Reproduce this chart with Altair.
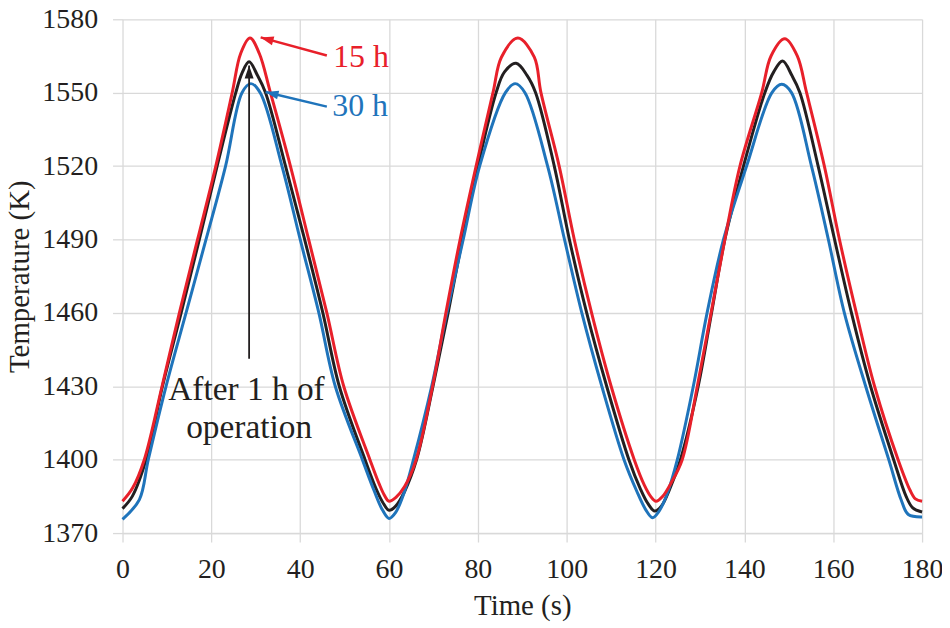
import altair as alt
import pandas as pd

# ---- series data ----
t_red = [0, 2.3, 4.9, 8.9, 12.8, 16.9, 21.0, 24.7, 26.6, 28.7,
         30.8, 33.3, 37.8, 41.9, 46.0, 49.8, 55.7, 57.8, 59.0, 60.0,
         61.5, 63.5, 66.1, 69.8, 72.8, 76.0, 79.6, 83.4, 85.3, 89.0,
         92.7, 94.2, 98.3, 101.7, 105.6, 110.0, 115.2, 117.5, 118.9, 120.1,
         121.6, 123.5, 126.0, 129.4, 132.5, 135.6, 139.0, 143.9, 146.0, 149.1,
         151.9, 154.0, 158.0, 161.4, 165.2, 169.3, 174.6, 177.3, 178.5, 180.0]
T_red = [1383, 1388.5, 1400, 1430, 1460, 1490, 1520, 1550, 1566, 1572.3,
         1566, 1550, 1520, 1490, 1460, 1430, 1400, 1390, 1385.3, 1383,
         1384.5, 1389, 1400, 1430, 1460, 1490, 1520, 1550, 1564.5, 1572.3,
         1564.5, 1550, 1520, 1490, 1460, 1430, 1400, 1389.5, 1385, 1383,
         1385, 1390.5, 1400, 1430, 1460, 1490, 1520, 1550, 1565, 1572,
         1565, 1550, 1520, 1490, 1460, 1430, 1400, 1387.5, 1384, 1383]

t_blk = [0, 2.2, 5.3, 9.0, 13.2, 17.3, 21.3, 25.5, 26.9, 28.5,
         30.4, 32.2, 36.7, 41.0, 45.1, 48.8, 54.6, 57.0, 58.6, 60.0,
         61.5, 63.5, 66.2, 69.9, 73.3, 76.5, 80.0, 84.1, 86.0, 88.6,
         91.1, 93.0, 97.2, 100.6, 104.5, 109.0, 114.0, 116.6, 118.3, 119.8,
         121.3, 123.2, 125.6, 129.6, 132.6, 135.6, 139.8, 144.6, 146.6, 148.6,
         150.7, 152.5, 156.6, 160.3, 164.1, 168.4, 173.6, 176.4, 177.9, 180.0]
T_blk = [1380, 1385, 1400, 1430, 1460, 1490, 1520, 1550, 1558, 1562.6,
         1557, 1550, 1520, 1490, 1460, 1430, 1400, 1388.5, 1382.5, 1379.3,
         1381, 1387, 1400, 1430, 1460, 1490, 1520, 1550, 1558.5, 1562,
         1557, 1550, 1520, 1490, 1460, 1430, 1400, 1388, 1382, 1379,
         1381, 1388, 1400, 1430, 1460, 1490, 1520, 1550, 1558.5, 1562.9,
         1557, 1550, 1520, 1490, 1460, 1430, 1400, 1385, 1380.3, 1378.6]

t_blu = [0, 3.8, 5.8, 9.8, 14.3, 18.8, 23.2, 26.9, 28.9, 31.0,
         35.9, 40.0, 44.2, 47.9, 54.0, 56.6, 58.5, 60.0, 61.5, 63.3,
         65.5, 69.6, 73.0, 76.7, 80.4, 86.2, 88.4, 90.6, 95.7, 99.5,
         103.4, 107.9, 112.9, 115.8, 117.8, 119.3, 120.8, 122.6, 124.9, 128.5,
         131.6, 135.3, 140.5, 146.2, 148.4, 150.6, 155.1, 158.9, 162.5, 167.3,
         172.5, 175.3, 176.9, 180.0]
T_blu = [1375.6, 1383.7, 1400, 1430, 1460, 1490, 1520, 1550, 1553.7, 1550,
         1520, 1490, 1460, 1430, 1400, 1387.5, 1379.5, 1376, 1378.5, 1386,
         1400, 1430, 1460, 1490, 1520, 1550, 1553.7, 1550, 1520, 1490,
         1460, 1430, 1400, 1387, 1379.5, 1376.3, 1379, 1386, 1400, 1430,
         1460, 1490, 1520, 1550, 1553.4, 1550, 1520, 1490, 1460, 1430,
         1400, 1383.5, 1377.6, 1376.6]

series_names = ["30 h", "1 h", "15 h"]
series_colors = ["#1f74bb", "#231f20", "#e8202a"]

x_ticks = [0, 20, 40, 60, 80, 100, 120, 140, 160, 180]
y_ticks = [1370, 1400, 1430, 1460, 1490, 1520, 1550, 1580]

# annotations
label_text = ["15 h", "30 h", "After 1 h of", "operation"]
label_t = [53.7, 53.5, 27.9, 28.5]
label_T = [1560.6, 1540.3, 1424.2, 1408.7]
label_color = ["#e8202a", "#1f74bb", "#231f20", "#231f20"]
label_size = [32, 32, 33.5, 33.5]

arrow_color = ["#e8202a", "#1f74bb", "#231f20"]
arrow_t_tail = [46.0, 46.0, 28.5]
arrow_T_tail = [1565.2, 1544.3, 1441.2]
arrow_t_head = [31.1, 32.2, 28.5]
arrow_T_head = [1572.6, 1550.3, 1561.1]
arrow_angle = [285.5, 283.7, 0.0]
arrow_width = [2.5, 2.5, 1.8]

FONT = "Liberation Serif"

rows = []
for name, ts, Ts in [("1 h", t_blk, T_blk), ("30 h", t_blu, T_blu), ("15 h", t_red, T_red)]:
    for i, (a, b) in enumerate(zip(ts, Ts)):
        rows.append({"series": name, "t": a, "T": b, "i": i})
df = pd.DataFrame(rows)

x_scale = alt.Scale(domain=[0, 180], nice=False, zero=False)
y_scale = alt.Scale(domain=[1370, 1580], nice=False, zero=False)

lines = alt.Chart(df).mark_line(strokeWidth=3, interpolate="catmull-rom").encode(
    x=alt.X("t:Q", scale=x_scale,
            axis=alt.Axis(values=x_ticks, title="Time (s)", tickSize=9, labelPadding=14,
                          titleY=82, titleBaseline="alphabetic", labelFlush=False,
                          domain=True, domainColor="#d9d9d9", domainWidth=1.5,
                          gridWidth=1.3, format="d")),
    y=alt.Y("T:Q", scale=y_scale,
            axis=alt.Axis(values=y_ticks, title="Temperature (K)", tickSize=10, labelPadding=15,
                          domain=False, titleX=-94, titleY=258, titleAngle=270,
                          titleBaseline="alphabetic", labelFlush=False, gridWidth=1.3,
                          format="d")),
    color=alt.Color("series:N", scale=alt.Scale(domain=series_names, range=series_colors), legend=None),
    detail="series:N",
    order="i:Q",
)

adf = pd.DataFrame({
    "t": arrow_t_tail, "T": arrow_T_tail, "t2": arrow_t_head, "T2": arrow_T_head,
    "c": arrow_color, "ang": arrow_angle, "w": arrow_width,
})

shafts = alt.Chart(adf).mark_rule().encode(
    x=alt.X("t:Q", scale=x_scale), y=alt.Y("T:Q", scale=y_scale),
    x2="t2:Q", y2="T2:Q",
    color=alt.Color("c:N", scale=None),
    strokeWidth=alt.StrokeWidth("w:Q", scale=None),
)

heads = alt.Chart(adf).mark_point(
    shape="M0,0 L0.45,1.3 L-0.45,1.3 Z", filled=True, size=400, opacity=1, strokeWidth=0
).encode(
    x=alt.X("t2:Q", scale=x_scale), y=alt.Y("T2:Q", scale=y_scale),
    color=alt.Color("c:N", scale=None),
    angle=alt.Angle("ang:Q", scale=None),
)

ldf = pd.DataFrame({"txt": label_text, "t": label_t, "T": label_T,
                    "c": label_color, "s": label_size})
labels = alt.Chart(ldf).mark_text(
    font=FONT, align="center", baseline="alphabetic"
).encode(
    x=alt.X("t:Q", scale=x_scale), y=alt.Y("T:Q", scale=y_scale),
    text="txt:N",
    color=alt.Color("c:N", scale=None),
    size=alt.Size("s:Q", scale=None),
)

chart = alt.layer(lines, shafts, heads, labels).properties(
    width=803, height=516,
    autosize=alt.AutoSizeParams(type="none"),
    padding={"left": 115, "top": 10, "right": 20, "bottom": 92},
).configure_view(stroke=None).configure_axis(
    labelFont=FONT, labelFontSize=28, labelColor="#231f20",
    titleFont=FONT, titleFontSize=29, titleFontWeight="normal", titleColor="#231f20",
    gridColor="#d9d9d9", tickColor="#d9d9d9", tickWidth=1.3,
)

chart.save("out.html", embed_options={"renderer": "svg", "actions": False})
